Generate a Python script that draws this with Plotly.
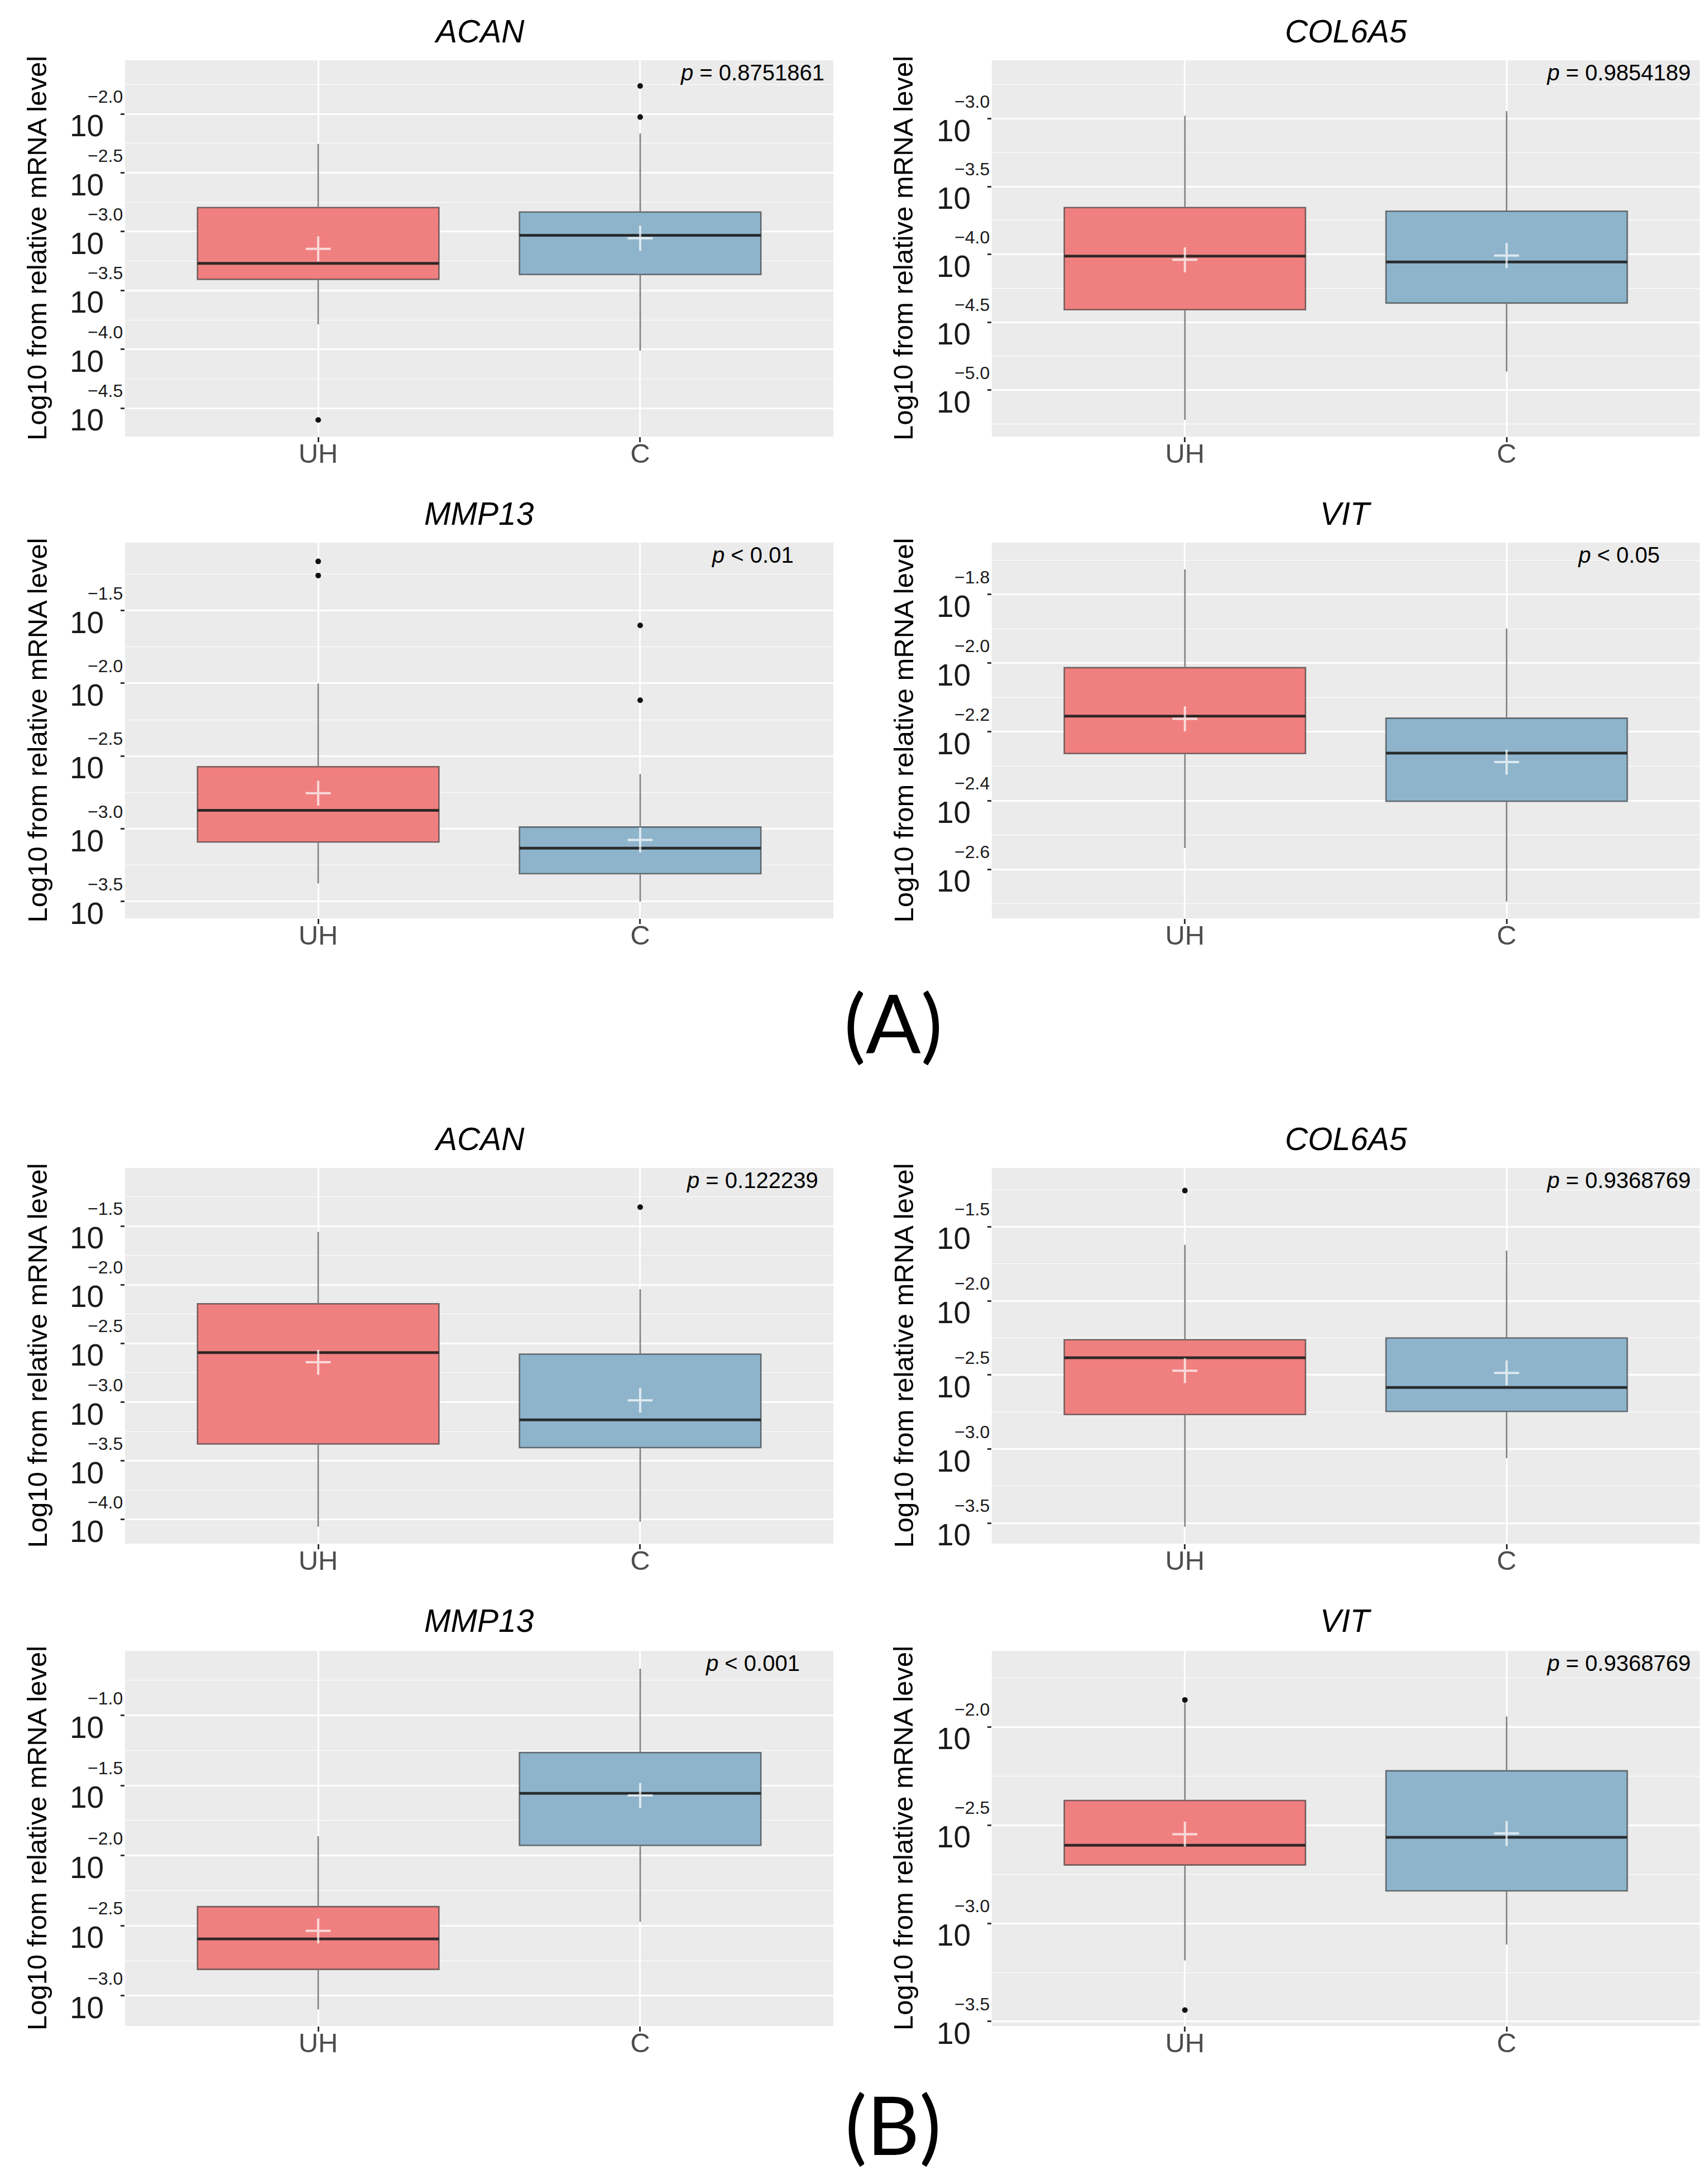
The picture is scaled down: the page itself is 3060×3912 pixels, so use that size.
import plotly.graph_objects as go

# ---------------- data (log10 of relative mRNA level) ----------------
panel_genes = ["ACAN", "COL6A5", "MMP13", "VIT", "ACAN", "COL6A5", "MMP13", "VIT"]
groups = ["UH", "C"]

uh_lower = [-3.787, -5.220, -3.376, -2.538, -4.062, -3.524, -3.097, -3.189]
uh_q1 = [-3.405, -4.408, -3.091, -2.263, -3.357, -2.767, -2.812, -2.703]
uh_median = [-3.269, -4.013, -2.873, -2.154, -2.578, -2.384, -2.595, -2.602]
uh_q3 = [-2.795, -3.655, -2.573, -2.013, -2.161, -2.262, -2.364, -2.374]
uh_upper = [-2.254, -2.978, -2.002, -1.727, -1.549, -1.622, -1.862, -1.877]
uh_mean = [-3.146, -4.040, -2.755, -2.162, -2.660, -2.471, -2.537, -2.546]
uh_outliers = [[-4.600], [], [-1.162, -1.259], [], [], [-1.256], [], [-1.862, -3.442]]

c_lower = [-4.010, -4.864, -3.500, -2.694, -4.018, -3.062, -2.472, -3.108]
c_q1 = [-3.364, -4.359, -3.309, -2.402, -3.388, -2.746, -1.927, -2.835]
c_median = [-3.031, -4.056, -3.133, -2.262, -3.151, -2.584, -1.556, -2.562]
c_q3 = [-2.833, -3.682, -2.988, -2.160, -2.591, -2.250, -1.265, -2.223]
c_upper = [-2.167, -2.944, -2.624, -1.899, -2.038, -1.661, -0.666, -1.946]
c_mean = [-3.056, -4.009, -3.077, -2.288, -2.984, -2.486, -1.571, -2.542]
c_outliers = [[-1.762, -2.026], [], [-1.602, -2.116], [], [-1.338], [], [], []]

p_labels = ["= 0.8751861", "= 0.9854189", "&lt; 0.01", "&lt; 0.05",
            "= 0.122239", "= 0.9368769", "&lt; 0.001", "= 0.9368769"]

y_ranges = [[-4.741, -1.544], [-5.343, -2.570], [-3.616, -1.033], [-2.743, -1.649],
            [-4.206, -1.004], [-3.638, -1.103], [-3.216, -0.539], [-3.523, -1.612]]
y_ticks = [[-4.5, -4.0, -3.5, -3.0, -2.5, -2.0],
           [-5.0, -4.5, -4.0, -3.5, -3.0],
           [-3.5, -3.0, -2.5, -2.0, -1.5],
           [-2.6, -2.4, -2.2, -2.0, -1.8],
           [-4.0, -3.5, -3.0, -2.5, -2.0, -1.5],
           [-3.5, -3.0, -2.5, -2.0, -1.5],
           [-3.0, -2.5, -2.0, -1.5, -1.0],
           [-3.5, -3.0, -2.5, -2.0]]
tick_base = "10"
y_title = "Log10 from relative mRNA level"
panel_letters = ["(A)", "(B)"]

# ---------------- styling / layout ----------------
W, H = 3060, 3912
FONT = "Liberation Sans, Arial, sans-serif"
RED = "#F08080"
BLUE = "#8EB4CB"
BOX_LINE = "rgba(40,40,40,0.6)"
MED_LINE = "rgba(30,30,30,0.85)"
BOX_W = 0.75

col_px = [(216, 1485), (1769, 3037)]
row_px = [(100, 774), (964, 1637), (2084, 2757), (2949, 3621)]
title_px = [48, 912, 2032, 2895]
ytitle_x_px = [58, 1610]
letter_px = [(1592, 1822), (1592, 3795)]


def fx(p):
    return p / W


def fy(p):
    return 1 - p / H


fig = go.Figure()
annotations = []

for i in range(8):
    r, c = divmod(i, 2)
    n = i + 1
    xa = "x" if n == 1 else f"x{n}"
    ya = "y" if n == 1 else f"y{n}"
    x0, x1 = col_px[c]
    y0, y1 = row_px[r]

    stats = [
        (0, uh_lower[i], uh_q1[i], uh_median[i], uh_q3[i], uh_upper[i], uh_mean[i], uh_outliers[i], RED),
        (1, c_lower[i], c_q1[i], c_median[i], c_q3[i], c_upper[i], c_mean[i], c_outliers[i], BLUE),
    ]
    for pos, lo, q1, med, q3, up, mn, outs, col in stats:
        fig.add_trace(go.Box(
            x=[pos], q1=[q1], median=[med], q3=[q3], lowerfence=[lo], upperfence=[up],
            width=BOX_W, fillcolor=col, line=dict(color=BOX_LINE, width=2.6),
            whiskerwidth=0, boxpoints=False, showlegend=False, hoverinfo="skip",
            xaxis=xa, yaxis=ya))
        fig.add_trace(go.Scatter(
            x=[pos - BOX_W / 2, pos + BOX_W / 2], y=[med, med], mode="lines",
            line=dict(color=MED_LINE, width=5), showlegend=False, hoverinfo="skip",
            xaxis=xa, yaxis=ya))
        fig.add_trace(go.Scatter(
            x=[pos], y=[mn], mode="markers",
            marker=dict(symbol="cross-thin", size=32,
                        line=dict(color="rgba(255,255,255,0.7)", width=4)),
            showlegend=False, hoverinfo="skip", xaxis=xa, yaxis=ya))
        if outs:
            fig.add_trace(go.Scatter(
                x=[pos] * len(outs), y=outs, mode="markers",
                marker=dict(color="#111111", size=10), showlegend=False,
                hoverinfo="skip", xaxis=xa, yaxis=ya))

    ticks = y_ticks[i]
    step = round(ticks[1] - ticks[0], 3)

    fig.layout[("xaxis" if n == 1 else f"xaxis{n}")] = dict(
        domain=[fx(x0), fx(x1)], anchor=ya, range=[-0.6, 1.6],
        tickmode="array", tickvals=[0, 1], ticktext=groups,
        showgrid=True, gridcolor="white", gridwidth=2.5, zeroline=False,
        ticks="outside", ticklen=9, tickwidth=2.5, tickcolor="#333333",
        ticklabelstandoff=-22,
        tickfont=dict(family=FONT, size=49, color="#4D4D4D"), fixedrange=True)
    fig.layout[("yaxis" if n == 1 else f"yaxis{n}")] = dict(
        domain=[fy(y1), fy(y0)], anchor=xa, range=y_ranges[i],
        tickmode="array", tickvals=ticks, showticklabels=False,
        showgrid=True, gridcolor="white", gridwidth=2.8, zeroline=False,
        minor=dict(tickmode="linear", tick0=0, dtick=step / 2, showgrid=True,
                   gridcolor="white", gridwidth=1.4, ticks=""),
        ticks="outside", ticklen=7, tickwidth=2.5, tickcolor="#333333",
        fixedrange=True)

    # y tick labels in ggplot's "10^x" style: base below, exponent above-right
    for t in ticks:
        annotations.append(dict(
            text=tick_base, x=0, y=t, xref=f"{xa} domain", yref=ya,
            xanchor="right", yanchor="top", xshift=-37, yshift=11, borderpad=0,
            showarrow=False, font=dict(family=FONT, size=55, color="#1A1A1A")))
        annotations.append(dict(
            text="\u2212%.1f" % abs(t), x=0, y=t, xref=f"{xa} domain", yref=ya,
            xanchor="right", yanchor="bottom", xshift=-3, yshift=12, borderpad=0,
            showarrow=False, font=dict(family=FONT, size=32, color="#1A1A1A")))

    # gene title
    annotations.append(dict(
        text=f"<i>{panel_genes[i]}</i>", x=fx((x0 + x1) / 2), y=fy(title_px[r]),
        xref="paper", yref="paper", xanchor="center", yanchor="middle",
        showarrow=False, font=dict(family=FONT, size=57, color="black")))
    # y-axis title
    annotations.append(dict(
        text=y_title, x=fx(ytitle_x_px[c]), y=fy((y0 + y1) / 2),
        xref="paper", yref="paper", xanchor="center", yanchor="middle",
        textangle=-90, showarrow=False, font=dict(family=FONT, size=49, color="black")))
    # p-value
    annotations.append(dict(
        text=f"<i>p</i> {p_labels[i]}", x=0.886, y=1 - 22 / (y1 - y0),
        xref=f"{xa} domain", yref=f"{ya} domain", xanchor="center", yanchor="middle",
        showarrow=False, font=dict(family=FONT, size=40, color="black")))

for k, (lx, ly) in enumerate(letter_px):
    annotations.append(dict(
        text=panel_letters[k], x=fx(lx), y=fy(ly), xref="paper", yref="paper",
        xanchor="center", yanchor="middle", showarrow=False,
        font=dict(family="Lato, Open Sans, sans-serif", size=146, color="black")))

fig.update_layout(
    width=W, height=H, margin=dict(l=0, r=0, t=0, b=0),
    paper_bgcolor="white", plot_bgcolor="#EBEBEB",
    showlegend=False, annotations=annotations,
    font=dict(family=FONT, color="black"))

fig.write_html("out.html")
